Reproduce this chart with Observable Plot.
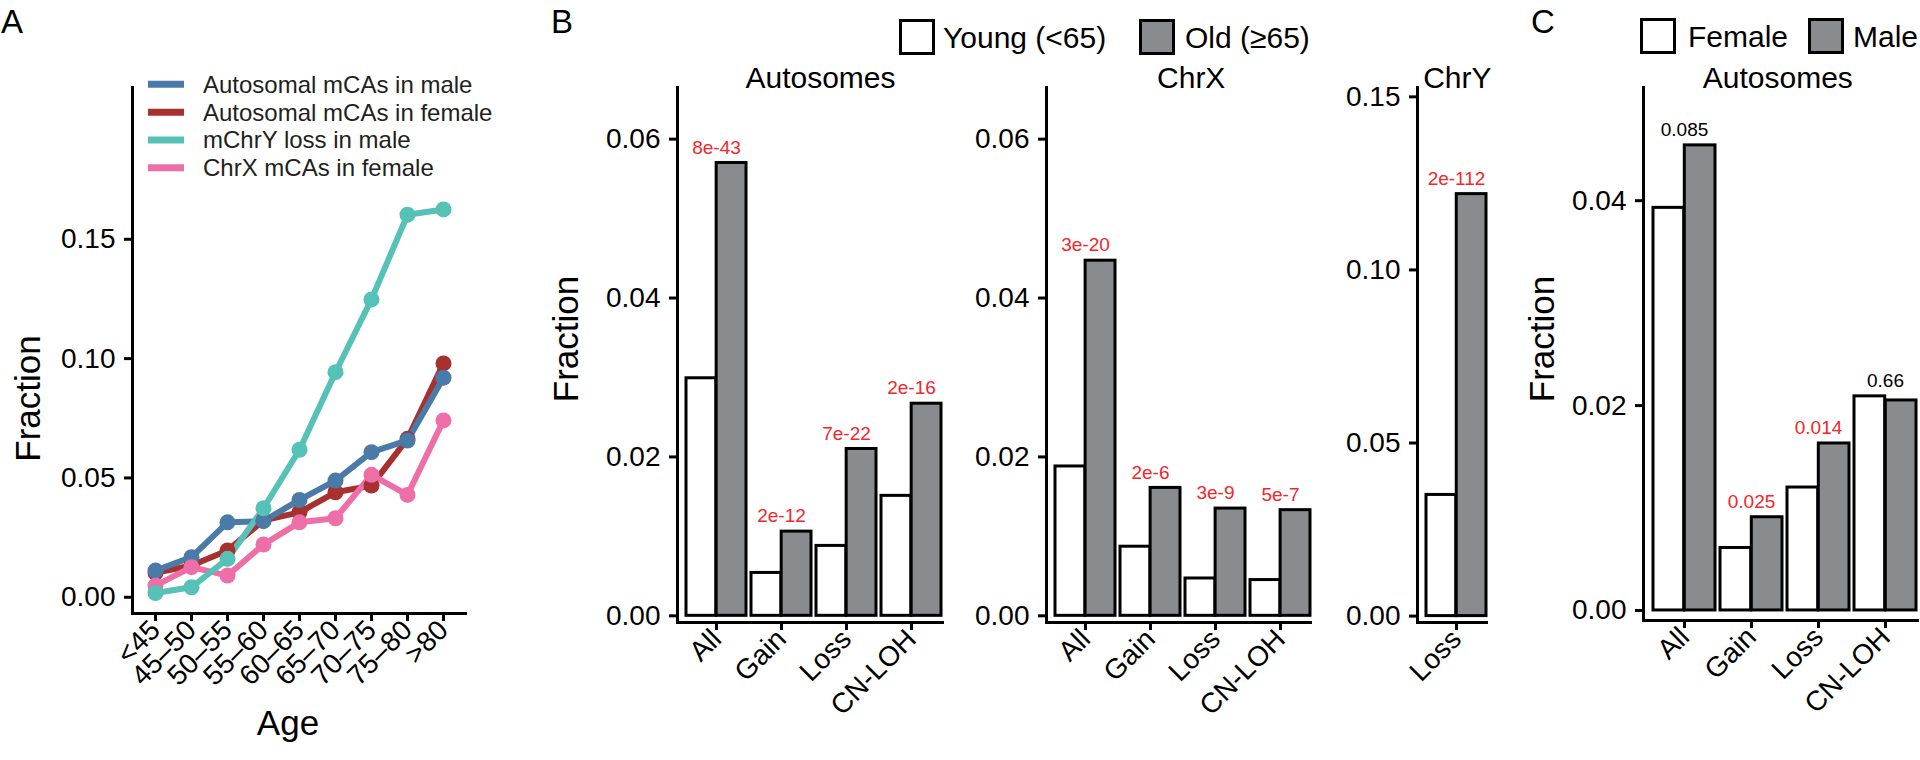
<!DOCTYPE html>
<html><head><meta charset="utf-8">
<script src="https://cdn.jsdelivr.net/npm/d3@7"></script>
<script src="https://cdn.jsdelivr.net/npm/@observablehq/plot@0.6"></script>
<style>
body{margin:0;background:#fff;font-family:"Liberation Sans",Arial,Helvetica,sans-serif;}
#root{position:relative;width:1920px;height:760px;overflow:hidden;background:#fff;}
.panel{position:absolute;top:0;}
.panel svg{overflow:visible;display:block;}
#overlay{position:absolute;left:0;top:0;}
</style></head><body><div id="root"></div>
<script>
// ---------- Panel A data ----------
const ages = ["<45","45–50","50–55","55–60","60–65","65–70","70–75","75–80",">80"];
const autoMale   = [0.0112,0.0168,0.0314,0.0319,0.0408,0.0489,0.0608,0.0657,0.092];
const autoFemale = [0.0102,0.0133,0.0196,0.0322,0.0356,0.0440,0.0468,0.0664,0.098];
const chrYMale   = [0.0018,0.0042,0.0161,0.0373,0.0618,0.0943,0.1248,0.1603,0.1625];
const chrXFemale = [0.0049,0.0126,0.0091,0.0221,0.0314,0.0331,0.0513,0.0429,0.0741];
const seriesNames = ["Autosomal mCAs in male","Autosomal mCAs in female","mChrY loss in male","ChrX mCAs in female"];
const ticksA = [0, 0.05, 0.10, 0.15];

// ---------- Panel B data ----------
const types = ["All","Gain","Loss","CN-LOH"];
const autoYoung = [0.0299,0.0054,0.0088,0.0151];
const autoOld   = [0.0570,0.0106,0.0210,0.0267];
const autoP     = ["8e-43","2e-12","7e-22","2e-16"];
const chrXYoung = [0.0188,0.0087,0.0047,0.0045];
const chrXOld   = [0.0447,0.0161,0.0135,0.0133];
const chrXP     = ["3e-20","2e-6","3e-9","5e-7"];
const typesY    = ["Loss"];
const chrYYoung = [0.0350];
const chrYOld   = [0.1219];
const chrYP     = ["2e-112"];
const ticksB    = [0, 0.02, 0.04, 0.06];
const ticksBY   = [0, 0.05, 0.10, 0.15];
const ageGroups = ["Young (<65)","Old (≥65)"];

// ---------- Panel C data ----------
const cFemale = [0.0393,0.0061,0.0120,0.0209];
const cMale   = [0.0454,0.0091,0.0163,0.0205];
const cP      = ["0.085","0.025","0.014","0.66"];
const sexes   = ["Female","Male"];
const ticksC  = [0, 0.02, 0.04];

// ---------- styles ----------
const FONT = '"Liberation Sans", Arial, Helvetica, sans-serif';
const GRAY = "#8a8b8e";
const RED = "#f2262b";
const colorsA = ["#4a7aa8","#a8302f","#56c1b6","#ee6fa8"];
const drawOrder = [1,0,3,2];
const fmt = d3.format(".2f");
const root = document.getElementById("root");

function mount(svg, left){
  const div = document.createElement("div");
  div.className = "panel";
  div.style.left = left + "px";
  div.appendChild(svg);
  root.appendChild(div);
}

// ---------- Panel A ----------
(function(){
  const seriesVals = [autoMale, autoFemale, chrYMale, chrXFemale];
  const rows = s => ages.map((a,i)=>({age:a, v: seriesVals[s][i]}));
  const marks = [];
  for (const s of drawOrder) marks.push(Plot.line(rows(s), {x:"age", y:"v", stroke: colorsA[s], strokeWidth: 6}));
  for (const s of drawOrder) marks.push(Plot.dot(rows(s), {x:"age", y:"v", r: 8, fill: colorsA[s]}));
  marks.push(
    Plot.frame({anchor:"left", strokeWidth:3, strokeLinecap:"square"}),
    Plot.frame({anchor:"bottom", strokeWidth:3, strokeLinecap:"square"}),
    Plot.axisY({ticks: ticksA, tickFormat: fmt, tickSize: 8, tickPadding: 9, strokeWidth: 3, label: null}),
    Plot.axisX({tickSize: 8, tickPadding: 4, tickRotate: -45, strokeWidth: 3, label: null}),
    Plot.text(["Age"], {frameAnchor:"bottom", textAnchor:"middle", dx:-11, dy:121, fontSize: 35}),
    Plot.text(["Fraction"], {frameAnchor:"left", textAnchor:"middle", lineAnchor:"middle", dx:-104, dy:48, rotate:-90, fontSize: 35})
  );
  const p = Plot.plot({
    width: 480, height: 760, marginLeft: 132, marginRight: 15, marginTop: 87, marginBottom: 147,
    style: {fontFamily: FONT, fontSize: "28px", color: "#000", background: "transparent", overflow: "visible"},
    x: {type: "point", domain: ages, padding: 0.59},
    y: {domain: [-0.0068, 0.2136]},
    marks
  });
  mount(p, 0);
})();

// ---------- Bar panel factory ----------
function barPanel(o){
  const rows = o.types.map((t,i)=>({type:t, a:o.a[i], b:o.b[i], p:o.p[i]}));
  const inner = o.width - o.marginLeft - o.marginRight - o.inset;
  const bw = d3.scaleBand().domain(o.types).range([0, inner]).paddingInner(o.pad).paddingOuter(0).bandwidth();
  const half = bw / 2;
  const marks = [
    Plot.barY(rows, {x:"type", y:"a", fill:"white", stroke:"black", strokeWidth:3, insetRight: half}),
    Plot.barY(rows, {x:"type", y:"b", fill:GRAY, stroke:"black", strokeWidth:3, insetLeft: half}),
    Plot.text(rows, {x:"type", y: d => Math.max(d.a, d.b), text:"p", dy:-15.5, fontSize: 19,
      fill: d => (o.colorBySig ? (parseFloat(d.p) < 0.05 ? RED : "#000") : RED)}),
    Plot.frame({anchor:"left", strokeWidth:3, strokeLinecap:"square"}),
    Plot.frame({anchor:"bottom", strokeWidth:3, strokeLinecap:"square"}),
    Plot.axisY({ticks: o.ticks, tickFormat: fmt, tickSize: 8, tickPadding: 9, strokeWidth: 3, label: null}),
    Plot.axisX({tickSize: 8, tickPadding: 4, tickRotate: -45, strokeWidth: 3, label: null}),
    Plot.text([o.title], {frameAnchor:"top", textAnchor:"middle", dx:o.titleDx, lineAnchor:"bottom", fontSize: 30})
  ];
  if (o.yLabel) marks.push(Plot.text(["Fraction"], {frameAnchor:"left", textAnchor:"middle", lineAnchor:"middle",
    dx:o.yLabel[0], dy:o.yLabel[1], rotate:-90, fontSize: 35}));
  const p = Plot.plot({
    width: o.width, height: 760, marginLeft: o.marginLeft, marginRight: o.marginRight,
    marginTop: 87, marginBottom: o.marginBottom,
    style: {fontFamily: FONT, fontSize: "28px", color: "#000", background: "transparent", overflow: "visible"},
    x: {type:"band", domain: o.types, paddingInner: o.pad, paddingOuter: 0, insetLeft: o.inset},
    y: {domain: o.yDomain},
    marks
  });
  mount(p, o.left);
}

barPanel({left:480, width:470, marginLeft:197, marginRight:8, marginBottom:138, inset:9, pad:0.075,
  types, a:autoYoung, b:autoOld, p:autoP, ticks:ticksB, yDomain:[-0.00084, 0.0665],
  title:"Autosomes", titleDx:10.5, yLabel:[-111,-16]});
barPanel({left:950, width:370, marginLeft:96, marginRight:10, marginBottom:138, inset:8.5, pad:0.075,
  types, a:chrXYoung, b:chrXOld, p:chrXP, ticks:ticksB, yDomain:[-0.00084, 0.0665],
  title:"ChrX", titleDx:12.7});
barPanel({left:1320, width:180, marginLeft:97, marginRight:14, marginBottom:138, inset:8.5, pad:0,
  types:typesY, a:chrYYoung, b:chrYOld, p:chrYP, ticks:ticksBY, yDomain:[-0.00185, 0.1527],
  title:"ChrY", titleDx:5.3});
barPanel({left:1500, width:420, marginLeft:143, marginRight:3, marginBottom:140, inset:9.4, pad:0.07,
  types, a:cFemale, b:cMale, p:cP, colorBySig:true, ticks:ticksC, yDomain:[-0.00098, 0.05105],
  title:"Autosomes", titleDx:-2.7, yLabel:[-101,-15]});

// ---------- Overlay: panel letters and legends ----------
const ov = d3.select(root).append("svg").attr("id","overlay")
  .attr("width",1920).attr("height",760)
  .style("font-family", FONT).style("pointer-events","none");
[["A",1],["B",551],["C",1531]].forEach(([t,x]) =>
  ov.append("text").attr("x",x).attr("y",33).attr("font-size",33).text(t));

// Legend A
const rowY = [84.3, 112.3, 140, 167.7];
seriesNames.forEach((n,i)=>{
  ov.append("line").attr("x1",148).attr("x2",184).attr("y1",rowY[i]).attr("y2",rowY[i])
    .attr("stroke",colorsA[i]).attr("stroke-width",7);
  ov.append("text").attr("x",203).attr("y",rowY[i]).attr("dy","0.35em")
    .attr("font-size",24).attr("fill","#231f20").text(n);
});

// Legend B and C
function boxLegend(items){
  items.forEach(([label, fill, bx, tx, top])=>{
    ov.append("rect").attr("x",bx+1.5).attr("y",top+1.5).attr("width",33).attr("height",33)
      .attr("fill",fill).attr("stroke","#000").attr("stroke-width",3);
    ov.append("text").attr("x",tx).attr("y",top+18).attr("dy","0.35em").attr("font-size",30).text(label);
  });
}
boxLegend([[ageGroups[0],"white",899,943,19],[ageGroups[1],GRAY,1139,1185,19]]);
boxLegend([[sexes[0],"white",1640,1688,18],[sexes[1],GRAY,1808,1853,18]]);
</script></body></html>
